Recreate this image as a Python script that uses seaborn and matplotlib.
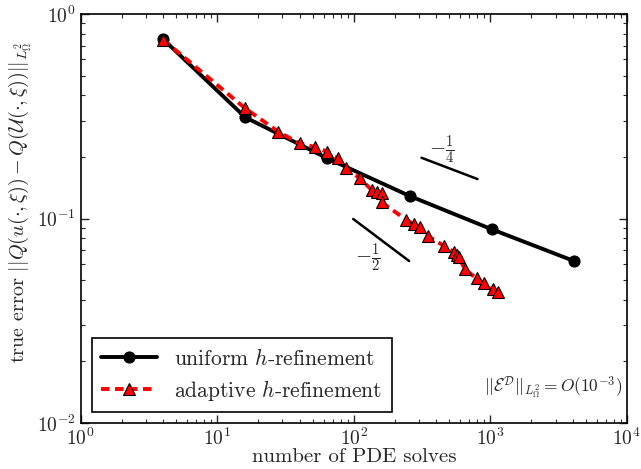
import matplotlib
matplotlib.use("Agg")
import matplotlib.pyplot as plt
import seaborn as sns
import pandas as pd
import numpy as np

# ---- data ----
uniform_solves = [4, 16, 64, 256, 1024, 4096]
uniform_error = [0.755, 0.313, 0.197, 0.129, 0.0886, 0.062]

adaptive_solves = [4, 16, 28, 40, 52, 64, 76, 88, 111, 135, 147, 161, 160,
                   243, 275, 305, 350, 456, 540, 565, 591, 650, 792, 896, 1048, 1140]
adaptive_error = [0.75, 0.346, 0.266, 0.233, 0.224, 0.212, 0.197, 0.176, 0.157,
                  0.138, 0.135, 0.133, 0.120, 0.0984, 0.094, 0.0912, 0.082,
                  0.0736, 0.0688, 0.0663, 0.0646, 0.0565, 0.051, 0.0482, 0.045, 0.0439]

slope_quarter_x = [313, 805]
slope_quarter_y = [0.1983, 0.156]
slope_half_x = [99, 254]
slope_half_y = [0.0995, 0.062]

labels = ["uniform $h$-refinement", "adaptive $h$-refinement"]

sns.set_style("ticks", {"xtick.direction": "in", "ytick.direction": "in"})
plt.rcParams["font.family"] = "serif"
plt.rcParams["font.serif"] = ["cmr10", "DejaVu Serif"]
plt.rcParams["mathtext.fontset"] = "cm"
plt.rcParams["axes.unicode_minus"] = False
plt.rcParams["axes.formatter.use_mathtext"] = True

fig = plt.figure(figsize=(6.41, 4.69), dpi=100)
ax = fig.add_axes([0.126, 0.098, 0.852, 0.872])

df_u = pd.DataFrame({"x": uniform_solves, "y": uniform_error})
df_a = pd.DataFrame({"x": adaptive_solves, "y": adaptive_error})

sns.lineplot(data=df_u, x="x", y="y", ax=ax, color="black", lw=2.8,
             marker="o", markersize=8, markeredgecolor="black",
             estimator=None, sort=False, label=labels[0])
sns.lineplot(data=df_a, x="x", y="y", ax=ax, color="red", lw=2.8,
             marker="^", markersize=8, markerfacecolor="red",
             markeredgecolor="black", markeredgewidth=0.8,
             estimator=None, sort=False, label=labels[1], dashes=False)
ax.lines[1].set_dashes([2.2, 1.4])

ax.plot(slope_quarter_x, slope_quarter_y, color="black", lw=1.8)
ax.plot(slope_half_x, slope_half_y, color="black", lw=1.8)
ax.text(441, 0.216, r"$-\frac{1}{4}$", fontsize=15, ha="center", va="center")
ax.text(127, 0.064, r"$-\frac{1}{2}$", fontsize=15, ha="center", va="center")
ax.text(0.991, 0.088, r"$||\mathcal{E}^\mathcal{D}||_{L^2_\Omega} = O(10^{-3})$",
        transform=ax.transAxes, ha="right", va="center", fontsize=12.5)

ax.set_xscale("log")
ax.set_yscale("log")
ax.set_xlim(1, 1e4)
ax.set_ylim(1e-2, 1)
ax.set_xlabel("number of PDE solves", fontsize=15, labelpad=-1)
ax.set_ylabel(r"true error $||Q(u(\cdot,\xi)) - Q(\mathcal{U}(\cdot,\xi))||_{L^2_\Omega}$",
              fontsize=14.5)
ax.yaxis.set_label_coords(-0.085, 0.54)
ax.tick_params(which="both", top=True, right=True, direction="in", labelsize=14)
ax.tick_params(which="major", length=6, width=1)
ax.tick_params(which="minor", length=3, width=0.8)
for s in ax.spines.values():
    s.set_linewidth(1.2)
    s.set_color("black")

leg = ax.legend(loc="lower left", fontsize=15.5, frameon=True, fancybox=False,
                handlelength=2.6, borderaxespad=0.5, edgecolor="black",
                framealpha=1, borderpad=0.45, labelspacing=0.4)
leg.get_frame().set_linewidth(1.2)

fig.savefig("out.png", dpi=100)
